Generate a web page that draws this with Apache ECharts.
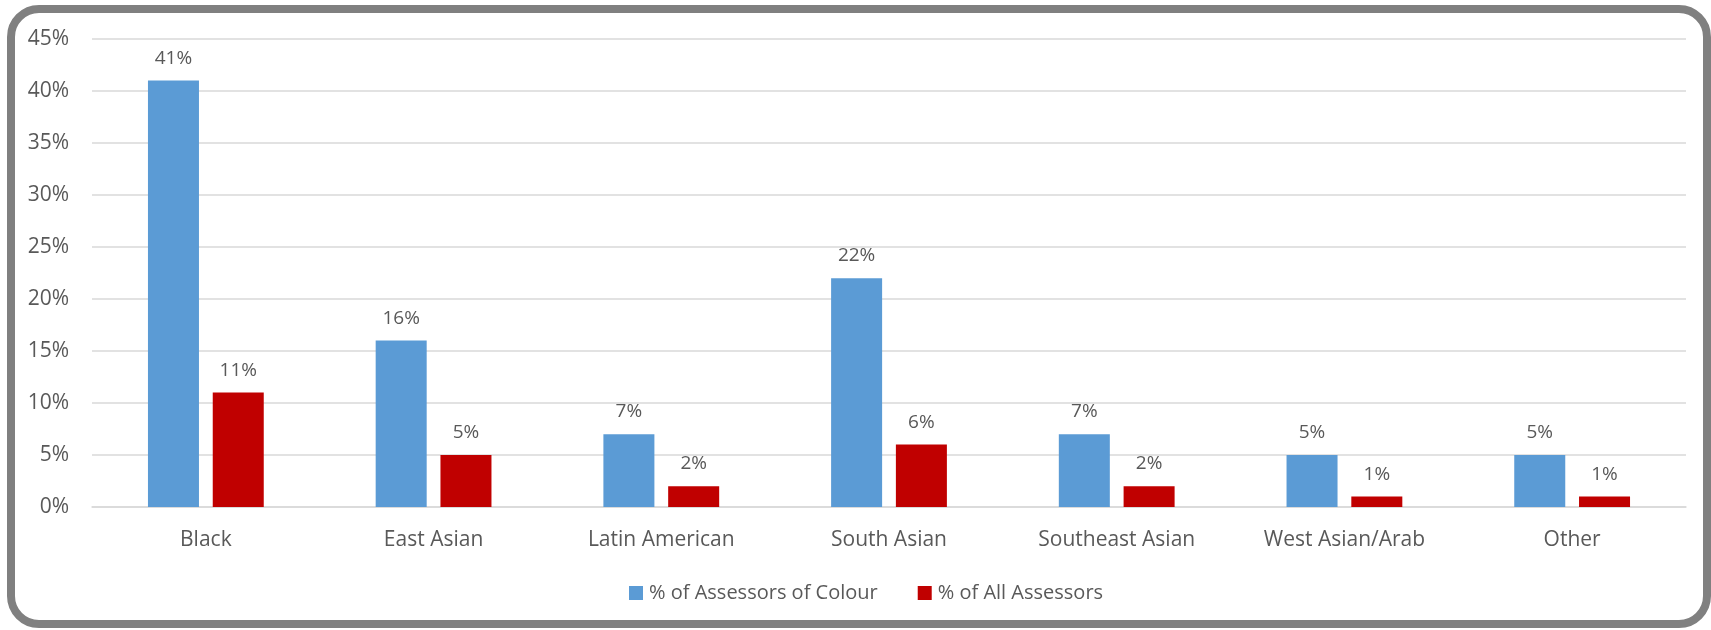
<!DOCTYPE html>
<html><head><meta charset="utf-8">
<script src="https://cdn.jsdelivr.net/npm/echarts@6/dist/echarts.min.js"></script>
<style>
html,body{margin:0;padding:0;background:#fff;}
#wrap{position:relative;width:1711px;height:630px;overflow:hidden;}
#frame{position:absolute;left:7px;top:5px;width:1704px;height:623px;box-sizing:border-box;border:8px solid #808080;border-radius:32px;pointer-events:none;}
#chart{position:absolute;left:0;top:0;width:1711px;height:630px;}
</style></head>
<body><div id="wrap"><div id="chart"></div><div id="frame"></div></div>
<script>
const categories = ["Black","East Asian","Latin American","South Asian","Southeast Asian","West Asian/Arab","Other"];
const assessorsOfColour = [41,16,7,22,7,5,5];
const allAssessors = [11,5,2,6,2,1,1];
const seriesNames = ["% of Assessors of Colour","% of All Assessors"];
const yTicks = [0,5,10,15,20,25,30,35,40,45];

const FONT = '"Open Sans", sans-serif';
const chart = echarts.init(document.getElementById('chart'), null, {renderer:'canvas'});
const lbl = {show:true, position:'top', distance:13, color:'#595959', fontSize:19, fontFamily:FONT, formatter: p => p.value + '%'};
chart.setOption({
  animation:false,
  grid:{left:92, right:25, top:39, bottom:123, containLabel:false},
  legend:{
    data:seriesNames, top:578, left:624, itemWidth:14, itemHeight:14, itemGap:40,
    icon:'rect', textStyle:{color:'#595959', fontSize:20, fontFamily:FONT, padding:[0,0,0,1]}
  },
  xAxis:{
    type:'category', data:categories,
    axisLine:{lineStyle:{color:'#d9d9d9', width:1.5}}, axisTick:{show:false},
    axisLabel:{color:'#595959', fontSize:21, fontFamily:FONT, margin:23}
  },
  yAxis:{
    type:'value', min:yTicks[0], max:yTicks[yTicks.length-1], interval:5,
    axisLine:{show:false}, axisTick:{show:false},
    splitLine:{lineStyle:{color:'#d9d9d9', width:1.5}},
    axisLabel:{color:'#595959', fontSize:21, fontFamily:FONT, margin:23, formatter: v => v + '%'}
  },
  series:[
    {name:seriesNames[0], type:'bar', data:assessorsOfColour, barWidth:'22.4%', barGap:'27%', itemStyle:{color:'#5b9bd5'}, label:lbl},
    {name:seriesNames[1], type:'bar', data:allAssessors, barWidth:'22.4%', barGap:'27%', itemStyle:{color:'#c00000'}, label:lbl}
  ]
});
</script></body></html>
